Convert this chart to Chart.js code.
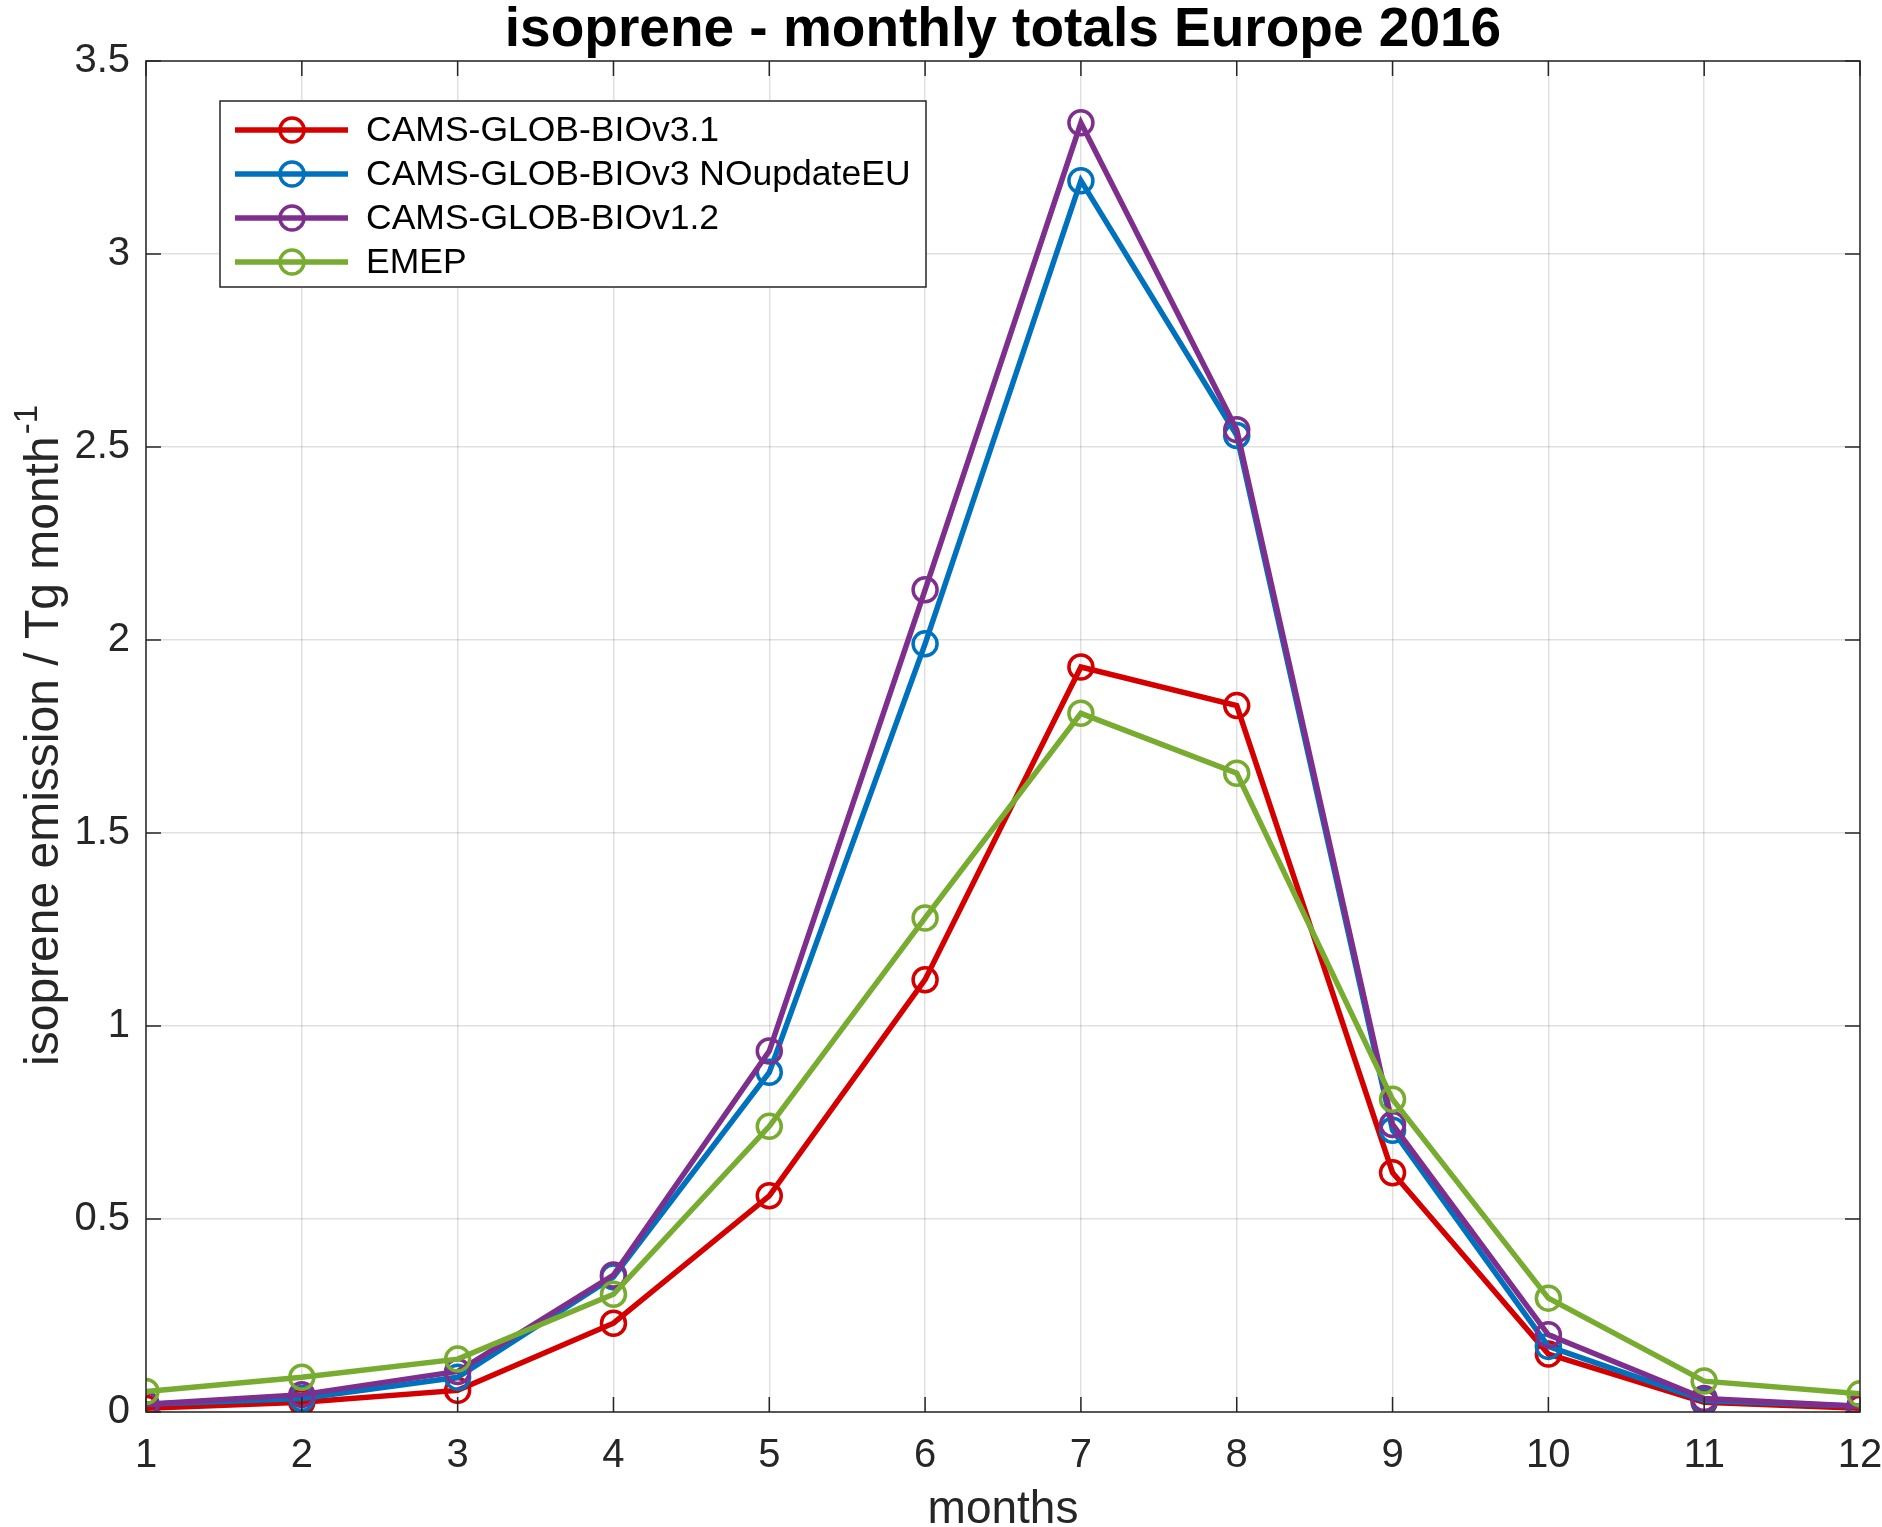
<!DOCTYPE html>
<html>
<head>
<meta charset="utf-8">
<script src="https://cdn.jsdelivr.net/npm/chart.js@4/dist/chart.umd.min.js"></script>
<style>
html,body{margin:0;padding:0;background:#fff;}
#wrap{width:1882px;height:1527px;}
</style>
</head>
<body>
<div id="wrap"><canvas id="c" width="1882" height="1527"></canvas></div>
<script>
const months = [1,2,3,4,5,6,7,8,9,10,11,12];
const seriesNames = ["CAMS-GLOB-BIOv3.1","CAMS-GLOB-BIOv3 NOupdateEU","CAMS-GLOB-BIOv1.2","EMEP"];
const camsV31 = [0.01,0.025,0.056,0.23,0.56,1.12,1.93,1.83,0.62,0.15,0.025,0.01];
const camsV3NoUpd = [0.02,0.035,0.09,0.35,0.88,1.99,3.19,2.53,0.73,0.17,0.03,0.015];
const camsV12 = [0.02,0.045,0.105,0.355,0.935,2.13,3.34,2.545,0.745,0.2,0.035,0.015];
const emep = [0.053,0.09,0.137,0.305,0.74,1.28,1.81,1.655,0.81,0.295,0.08,0.047];
const yTicks = [0,0.5,1,1.5,2,2.5,3,3.5];
const titleText = "isoprene - monthly totals Europe 2016";
const xTitle = "months";
const yTitle = "isoprene emission / Tg month";
const yTitleSup = "-1";

const colors = ["#D40000","#0072BD","#7E2F8E","#77AC30"];
const allSeries = [camsV31, camsV3NoUpd, camsV12, emep];
const FONT = "'Liberation Sans', Arial, Helvetica, sans-serif";
const AXC = "#262626";

const datasets = allSeries.map((vals, i) => ({
  label: seriesNames[i],
  data: months.map((m, k) => ({x: m, y: vals[k]})),
  borderColor: colors[i],
  backgroundColor: colors[i],
  borderWidth: 5.5,
  pointStyle: 'circle',
  pointRadius: 12,
  pointHoverRadius: 12,
  pointBorderWidth: 3.5,
  pointBackgroundColor: 'rgba(0,0,0,0)',
  pointBorderColor: colors[i],
  tension: 0,
  order: 4 - i
}));

const deco = {
  id: 'deco',
  afterDraw(chart) {
    const ctx = chart.ctx;
    const a = chart.chartArea;
    const xs = chart.scales.x, ys = chart.scales.y;
    ctx.save();
    // inner ticks
    ctx.strokeStyle = AXC;
    ctx.lineWidth = 1.5;
    const tl = 15;
    months.forEach(m => {
      const px = xs.getPixelForValue(m);
      ctx.beginPath();
      ctx.moveTo(px, a.bottom); ctx.lineTo(px, a.bottom - tl);
      ctx.moveTo(px, a.top); ctx.lineTo(px, a.top + tl);
      ctx.stroke();
    });
    yTicks.forEach(v => {
      const py = ys.getPixelForValue(v);
      ctx.beginPath();
      ctx.moveTo(a.left, py); ctx.lineTo(a.left + tl, py);
      ctx.moveTo(a.right, py); ctx.lineTo(a.right - tl, py);
      ctx.stroke();
    });
    // box
    ctx.strokeRect(a.left, a.top, a.right - a.left, a.bottom - a.top);

    // legend
    const lx = 220, ly = 101, lw = 706, lh = 186;
    ctx.fillStyle = '#fff';
    ctx.fillRect(lx, ly, lw, lh);
    ctx.strokeStyle = AXC;
    ctx.lineWidth = 1.5;
    ctx.strokeRect(lx, ly, lw, lh);
    const rows = [130, 174, 218, 262];
    ctx.font = "35.5px " + FONT;
    ctx.textBaseline = 'middle';
    ctx.textAlign = 'left';
    seriesNames.forEach((name, i) => {
      const y = rows[i];
      ctx.strokeStyle = colors[i];
      ctx.lineWidth = 5.5;
      ctx.beginPath(); ctx.moveTo(235, y); ctx.lineTo(348, y); ctx.stroke();
      ctx.lineWidth = 3.5;
      ctx.beginPath(); ctx.arc(292, y, 12, 0, Math.PI * 2); ctx.stroke();
      ctx.fillStyle = '#000';
      ctx.fillText(name, 366, y + 1);
    });

    // title
    ctx.fillStyle = '#000';
    ctx.font = "bold 55px " + FONT;
    ctx.textAlign = 'center';
    ctx.textBaseline = 'alphabetic';
    ctx.fillText(titleText, (a.left + a.right) / 2, 46);

    // x title
    ctx.fillStyle = AXC;
    ctx.font = "46px " + FONT;
    ctx.fillText(xTitle, (a.left + a.right) / 2, 1523);

    // y title with superscript
    ctx.save();
    ctx.translate(58, (a.top + a.bottom) / 2);
    ctx.rotate(-Math.PI / 2);
    ctx.font = "48px " + FONT;
    const w1 = ctx.measureText(yTitle).width;
    ctx.font = "33px " + FONT;
    const w2 = ctx.measureText(yTitleSup).width;
    const start = -(w1 + w2) / 2;
    ctx.textAlign = 'left';
    ctx.font = "48px " + FONT;
    ctx.fillText(yTitle, start, 0);
    ctx.font = "33px " + FONT;
    ctx.fillText(yTitleSup, start + w1 + 2, -21);
    ctx.restore();

    ctx.restore();
  }
};

new Chart(document.getElementById('c'), {
  type: 'line',
  data: { datasets },
  options: {
    responsive: false,
    animation: false,
    devicePixelRatio: 1,
    layout: { padding: { top: 61, right: 22, left: 0, bottom: 0 } },
    plugins: { legend: { display: false }, tooltip: { enabled: false }, title: { display: false } },
    scales: {
      x: {
        type: 'linear', min: 1, max: 12,
        afterFit: s => { s.height = 115; s.paddingLeft = 0; s.paddingRight = 0; },
        afterBuildTicks: s => { s.ticks = months.map(v => ({value: v})); },
        ticks: { color: AXC, font: { family: FONT, size: 40 }, padding: 20, maxRotation: 0, autoSkip: false,
                 callback: v => String(v) },
        grid: { color: 'rgba(0,0,0,0.12)', lineWidth: 1.5, drawTicks: false },
        border: { display: false }
      },
      y: {
        type: 'linear', min: 0, max: 3.5,
        afterFit: s => { s.width = 146; s.paddingTop = 0; s.paddingBottom = 0; },
        afterBuildTicks: s => { s.ticks = yTicks.map(v => ({value: v})); },
        ticks: { color: AXC, font: { family: FONT, size: 40 }, padding: 16,
                 callback: v => String(v) },
        grid: { color: 'rgba(0,0,0,0.12)', lineWidth: 1.5, drawTicks: false },
        border: { display: false }
      }
    }
  },
  plugins: [deco]
});
</script>
</body>
</html>
